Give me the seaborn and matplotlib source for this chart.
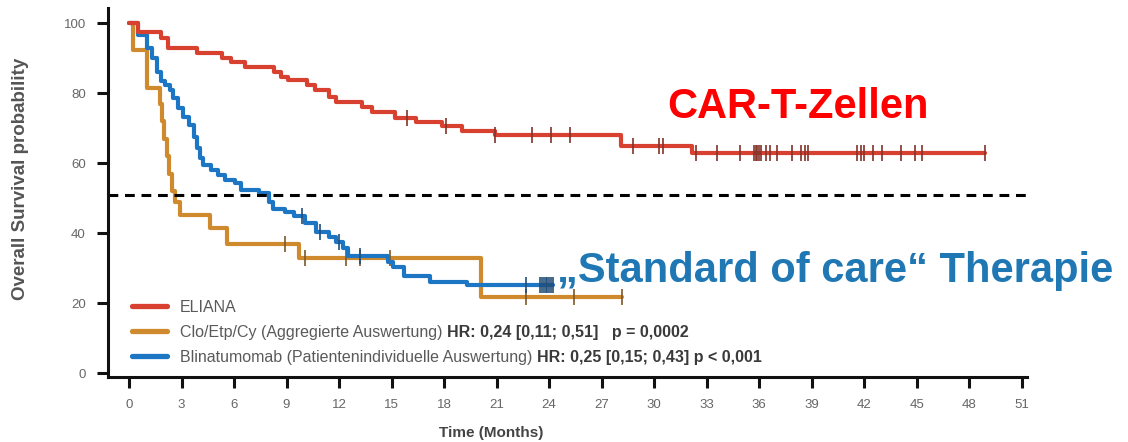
import numpy as np
import matplotlib
matplotlib.use('Agg')
import matplotlib.pyplot as plt
from matplotlib.lines import Line2D
import seaborn as sns

# Kaplan-Meier Werte (Zeit in Monaten, Überleben in %)
# ELIANA (CAR-T)
eliana_t = [0.5, 1.8, 2.25, 3.9, 5.3, 5.8, 6.6, 8.3, 8.7, 9.1, 10.15, 10.6, 11.4, 11.8,
            13.3, 13.9, 15.2, 16.4, 17.9, 19.0, 20.9, 28.1, 32.15]
eliana_s = [97.5, 95.6, 92.8, 91.3, 89.9, 88.9, 87.5, 86.1, 84.7, 83.7, 82.3, 80.9, 78.9, 77.5,
            76.1, 74.5, 73.0, 71.8, 70.6, 69.2, 68.0, 65.0, 63.0]
eliana_end = 48.9
eliana_cens = [15.9, 18.1, 20.9, 23.0, 24.1, 25.2, 28.8, 30.3, 30.5, 32.4, 33.6, 34.9, 35.7,
               35.8, 35.9, 36.0, 36.1, 36.4, 36.6, 37.0, 37.9, 38.4, 38.6, 38.8, 41.6, 41.8,
               42.0, 42.5, 43.0, 44.1, 44.9, 45.3, 48.9]

# Clo/Etp/Cy
clo_t = [0.25, 1.0, 1.75, 1.9, 2.0, 2.15, 2.3, 2.45, 2.6, 2.9, 4.6, 5.6, 9.7, 20.1]
clo_s = [92.3, 81.3, 77.0, 72.0, 67.0, 62.0, 57.0, 52.0, 49.0, 45.1, 41.3, 37.0, 32.8, 21.8]
clo_end = 28.15
clo_cens = [8.9, 10.06, 12.4, 13.2, 14.9, 22.7, 25.4, 28.15]

# Blinatumomab
blina_t = [0.5, 1.0, 1.3, 1.6, 1.8, 2.06, 2.34, 2.5, 2.8, 3.1, 3.4, 3.7, 3.9, 4.06, 4.25,
           4.7, 5.1, 5.5, 6.06, 6.4, 7.4, 8.0, 8.25, 8.9, 9.4, 10.06, 10.7, 11.4, 11.8,
           12.25, 12.5, 14.8, 15.1, 15.7, 17.2, 19.3]
blina_s = [96.6, 92.8, 89.9, 86.1, 83.3, 82.3, 80.9, 78.5, 75.6, 73.2, 70.9, 67.5, 64.2, 61.3,
           59.4, 58.0, 56.6, 55.1, 54.2, 52.3, 51.3, 48.9, 47.0, 46.1, 44.8, 42.8, 40.4, 39.0,
           37.5, 35.6, 33.5, 31.8, 30.4, 27.6, 26.1, 25.1]
blina_end = 24.2
blina_cens = [9.9, 10.9, 12.0, 13.2, 22.7, 23.5, 23.6, 23.7, 23.8, 23.9, 24.0, 24.1, 24.2]

x_ticks = list(range(0, 52, 3))
y_ticks = [0, 20, 40, 60, 80, 100]
median_line = 51

labels = ['ELIANA',
          'Clo/Etp/Cy (Aggregierte Auswertung)',
          'Blinatumomab (Patientenindividuelle Auswertung)']
hr_texts = ['', 'HR: 0,24 [0,11; 0,51]   p = 0,0002', 'HR: 0,25 [0,15; 0,43] p < 0,001']

c_red = '#d8412f'
c_orange = '#d08a2e'
c_blue = '#1d76c4'

sns.set_style('white')
plt.rcParams['font.family'] = ['Liberation Sans', 'DejaVu Sans']

fig = plt.figure(figsize=(11.28, 4.42), dpi=100)
ax = fig.add_axes([108 / 1128, 65 / 442, 919 / 1128, 369 / 442])


def draw_km(t, s, end, cens, color):
    x = np.r_[0, t, end]
    y = np.r_[100, s, s[-1]]
    sns.lineplot(x=x, y=y, drawstyle='steps-post', color=color, lw=3,
                 estimator=None, sort=False, ax=ax, legend=False)
    idx = np.searchsorted(x, cens, side='right') - 1
    ax.plot(cens, y[idx], ls='none', marker='|', ms=11, mew=1.2,
            color=sns.dark_palette(color, 3)[1])


draw_km(clo_t, clo_s, clo_end, clo_cens, c_orange)
draw_km(blina_t, blina_s, blina_end, blina_cens, c_blue)
draw_km(eliana_t, eliana_s, eliana_end, eliana_cens, c_red)

ax.axhline(median_line, color='black', lw=2.2, dashes=(3.2, 2.2))

ax.set_xlim(-1.2, 51.3)
ax.set_ylim(-1.14, 104.3)
ax.set_xticks(x_ticks)
ax.set_yticks(y_ticks)
ax.tick_params(bottom=True, left=True, direction='out', length=8, width=2.2,
               color='#111111', labelcolor='#666666', labelsize=9.5, pad=8)
for side in ['top', 'right']:
    ax.spines[side].set_visible(False)
for side in ['left', 'bottom']:
    ax.spines[side].set_linewidth(2.2)
    ax.spines[side].set_color('#111111')
ax.set_xlabel('')
ax.set_ylabel('')

fig.text(21 / 1128, 263 / 442, 'Overall Survival probability', rotation=90,
         ha='center', va='center', fontsize=13.5, fontweight='bold', color='#555555')
fig.text(491 / 1128, 9.5 / 442, 'Time (Months)', ha='center', va='center',
         fontsize=11, fontweight='bold', color='#444444')

handles = [Line2D([], [], color=c, lw=3.8) for c in [c_red, c_orange, c_blue]]
leg = ax.legend(handles, labels, loc='upper left',
                bbox_to_anchor=(132 / 1128, 142 / 442), bbox_transform=fig.transFigure,
                frameon=False, fontsize=11.5, handlelength=2.2, handletextpad=0.8,
                labelspacing=0.62, borderpad=0, borderaxespad=0)
for txt in leg.get_texts():
    txt.set_color('#5a5a5a')

# fette HR-Angaben direkt hinter den Legendentext setzen
fig.canvas.draw()
inv = fig.transFigure.inverted()
for txt, hr in zip(leg.get_texts(), hr_texts):
    if not hr:
        continue
    bb = txt.get_window_extent()
    x0, y0 = inv.transform((bb.x1 + 5, bb.y0))
    fig.text(x0, y0, hr, ha='left', va='bottom', fontsize=11.5,
             fontweight='bold', color='#3a3a3a')

fig.text(667 / 1128, 324 / 442, 'CAR-T-Zellen', color='#ff0000', fontsize=30,
         fontweight='bold', ha='left', va='baseline')
fig.text(557 / 1128, 160 / 442, '\u201eStandard of care\u201c Therapie', color='#1f77b4',
         fontsize=30, fontweight='bold', ha='left', va='baseline')

fig.savefig('out.png', dpi=100)
